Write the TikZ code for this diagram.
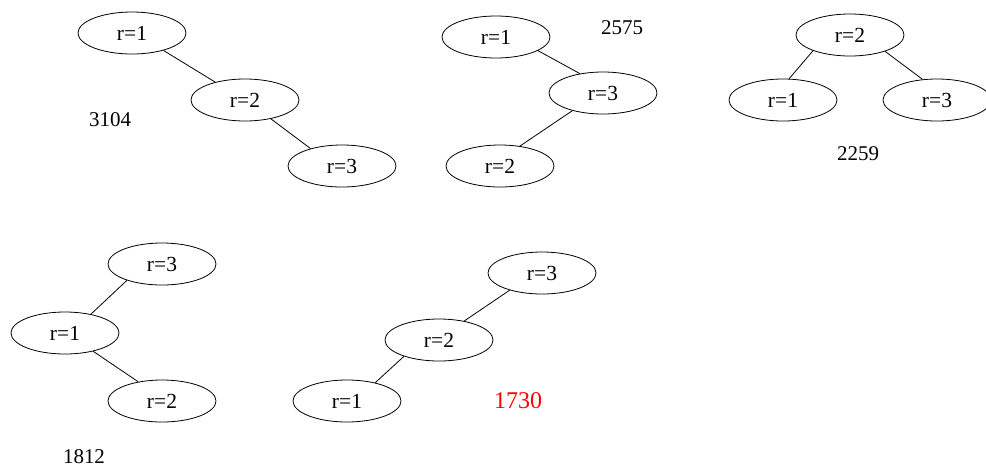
\documentclass[tikz,border=0pt]{standalone}
\usepackage{fontspec}
\setmainfont{Liberation Serif}
\usetikzlibrary{shapes.geometric}
\begin{document}
\begin{tikzpicture}[x=1pt,y=-1pt,
  tnode/.style={draw, ellipse, minimum width=108pt, minimum height=42pt, inner sep=0pt, line width=0.8pt, font=\fontsize{21.5}{25}\selectfont},
  score/.style={inner sep=0pt, font=\fontsize{21}{25}\selectfont},
  best/.style={inner sep=0pt, text=red, font=\fontsize{24}{28}\selectfont},
  conn/.style={line width=0.8pt}]
\useasboundingbox (0,0) rectangle (986,472);
% tree 1
\node[tnode] (a1) at (132,33) {r=1};
\node[tnode] (a2) at (245,100) {r=2};
\node[tnode] (a3) at (342,166) {r=3};
\node[score] (s1) at (110,120) {3104};
\draw[conn] (a1.331) -- (a2.149);
\draw[conn] (a2.324) -- (a3.151);
% tree 2
\node[tnode] (b1) at (496,37) {r=1};
\node[tnode] (b3) at (603,93) {r=3};
\node[tnode] (b2) at (500,166) {r=2};
\node[score] (s2) at (622,28) {2575};
\draw[conn] (b1.342) -- (b3.140);
\draw[conn] (b3.210) -- (b2.45);
% tree 3
\node[tnode] (c2) at (850,35) {r=2};
\node[tnode] (c1) at (783,100) {r=1};
\node[tnode] (c3) at (937,100) {r=3};
\node[score] (s3) at (858,154) {2259};
\draw[conn] (c2.203) -- (c1.74);
\draw[conn] (c2.335) -- (c3.125);
% tree 4
\node[tnode] (d3) at (162,264) {r=3};
\node[tnode] (d1) at (65,333) {r=1};
\node[tnode] (d2) at (162,401) {r=2};
\node[score] (s4) at (84,457) {1812};
\draw[conn] (d3.205) -- (d1.36);
\draw[conn] (d1.327) -- (d2.141);
% tree 5
\node[tnode] (e3) at (542,273) {r=3};
\node[tnode] (e2) at (439,340) {r=2};
\node[tnode] (e1) at (347,401) {r=1};
\node[best] (s5) at (518,401) {1730};
\draw[conn] (e3.208) -- (e2.37);
\draw[conn] (e2.205) -- (e1.33);
\end{tikzpicture}
\end{document}
